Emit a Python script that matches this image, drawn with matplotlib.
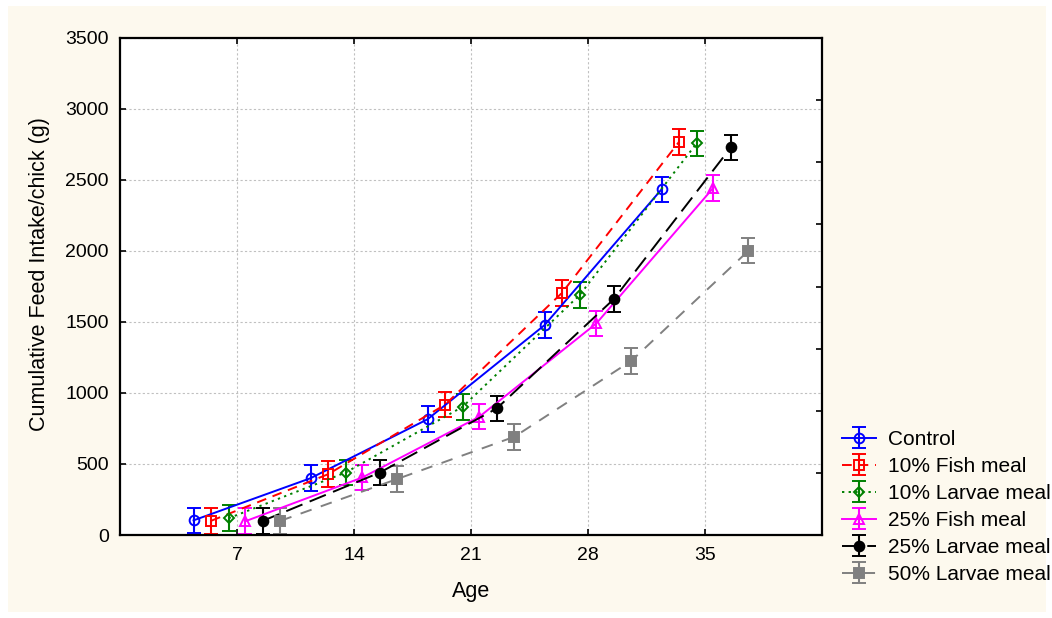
import matplotlib
matplotlib.use("Agg")
import matplotlib.pyplot as plt
from matplotlib.patches import Rectangle

plt.rcParams['font.family'] = ['Liberation Sans', 'DejaVu Sans']

# ---- data ----
age_ticks = [7, 14, 21, 28, 35]
series_names = ["Control", "10% Fish meal", "10% Larvae meal",
                "25% Fish meal", "25% Larvae meal", "50% Larvae meal"]

x_control = [4.4, 11.4, 18.4, 25.4, 32.4]
x_fish10 = [5.45, 12.45, 19.45, 26.45, 33.45]
x_larvae10 = [6.5, 13.5, 20.5, 27.5, 34.5]
x_fish25 = [7.5, 14.5, 21.5, 28.5, 35.5]
x_larvae25 = [8.55, 15.55, 22.55, 29.55, 36.55]
x_larvae50 = [9.6, 16.6, 23.6, 30.6, 37.6]

y_control = [103, 400, 815, 1478, 2434]
y_fish10 = [100, 428, 918, 1706, 2769]
y_larvae10 = [118, 440, 903, 1690, 2758]
y_fish25 = [97, 405, 833, 1490, 2445]
y_larvae25 = [100, 440, 892, 1662, 2730]
y_larvae50 = [100, 395, 692, 1227, 2002]

err_control = [90, 90, 90, 90, 90]
err_fish10 = [90, 90, 90, 90, 90]
err_larvae10 = [90, 90, 90, 90, 90]
err_fish25 = [90, 90, 90, 90, 90]
err_larvae25 = [90, 90, 90, 90, 90]
err_larvae50 = [90, 90, 90, 90, 90]

xs = [x_control, x_fish10, x_larvae10, x_fish25, x_larvae25, x_larvae50]
ys = [y_control, y_fish10, y_larvae10, y_fish25, y_larvae25, y_larvae50]
errs = [err_control, err_fish10, err_larvae10, err_fish25, err_larvae25, err_larvae50]

colors = ["#0000ff", "#ff0000", "#008000", "#ff00ff", "#000000", "#808080"]
markers = ["o", "s", "D", "^", "o", "s"]
mfaces = ["none", "none", "none", "none", "#000000", "#808080"]
msizes = [7, 7, 5.5, 7, 7, 7]
dashes = [None, (5, 3.5), (1.2, 2.2), None, (9, 4), (6, 5)]

# ---- figure ----
W, H = 1052, 618
fig = plt.figure(figsize=(W / 100, H / 100), dpi=100, facecolor="white")
fig.patches.append(Rectangle((8 / W, 6 / H), (1046 - 8) / W, (612 - 6) / H,
                             transform=fig.transFigure, facecolor="#fdf9ee",
                             edgecolor="none", zorder=-10))

ax = fig.add_axes([120 / W, 1 - 535 / H, (822 - 120) / W, (535 - 38) / H])
ax.set_facecolor("white")

handles = []
for x, y, e, c, m, mf, ms, d, name in zip(xs, ys, errs, colors, markers,
                                            mfaces, msizes, dashes, series_names):
    kw = dict(color=c, marker=m, markerfacecolor=mf, markeredgecolor=c,
              markersize=ms, markeredgewidth=1.4, linewidth=1.4,
              ecolor=c, elinewidth=1.5, capsize=4.7, capthick=1.5, label=name)
    h = ax.errorbar(x, y, yerr=e, **kw)
    if d is not None:
        h.lines[0].set_dashes(d)
    handles.append(h)

ax.set_xlim(0, 42)
ax.set_ylim(0, 3500)
ax.set_xticks(age_ticks)
ax.set_yticks(range(0, 3501, 500))
ax.grid(True, color="#c0c0c0", linestyle=(0, (2, 2)), linewidth=0.8)
ax.set_axisbelow(True)
ax.tick_params(direction="in", length=4, width=1.2, labelsize=14,
               top=True, right=False, pad=8)
ax.tick_params(axis="x", pad=9)
for sp in ax.spines.values():
    sp.set_linewidth(1.6)

ax2 = ax.twinx()
ax2.set_ylim(0, 8)
ax2.set_yticks(range(1, 8))
ax2.set_yticklabels([])
ax2.tick_params(direction="in", length=4, width=1.2)
for sp in ax2.spines.values():
    sp.set_visible(False)

ax.set_xlabel("Age", fontsize=15.5, labelpad=12)
ax.set_ylabel("Cumulative Feed Intake/chick (g)", fontsize=15.5)
ax.yaxis.set_label_coords(-0.1, 0.526)

fig.legend(handles=handles, labels=series_names, loc="upper left",
           bbox_to_anchor=(842 / W, 1 - 430 / H), frameon=False,
           fontsize=15, borderpad=0, borderaxespad=0,
           handlelength=1.65, handletextpad=0.58, labelspacing=0.385)

fig.savefig("out.png", dpi=100, facecolor=fig.get_facecolor())
